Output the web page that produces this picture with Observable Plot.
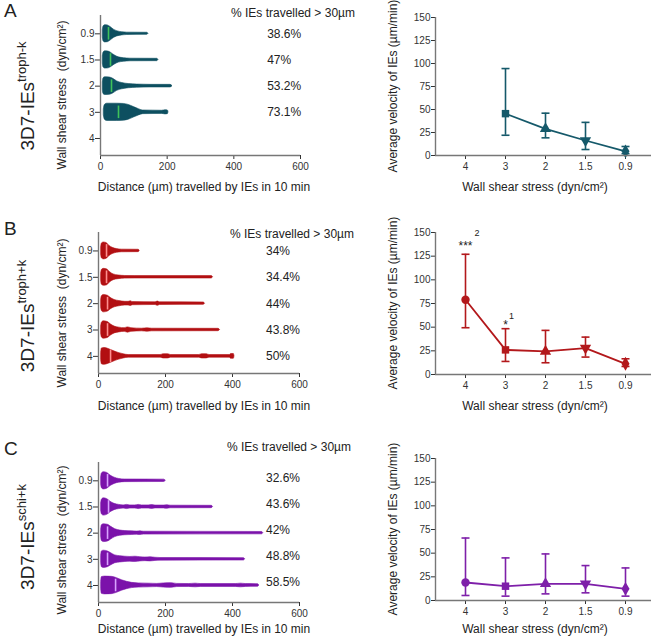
<!DOCTYPE html>
<html><head><meta charset="utf-8">
<script src="https://cdn.jsdelivr.net/npm/d3@7"></script>
<script src="https://cdn.jsdelivr.net/npm/@observablehq/plot@0.6"></script>
<style>
body{margin:0;background:#fff;}
#fig{position:relative;width:654px;height:637px;font-family:Arial,"Liberation Sans",Helvetica,sans-serif;color:#222;overflow:hidden;background:#fff;}
.abs{position:absolute;white-space:pre;line-height:1;}
.rot{transform:translate(-50%,-50%) rotate(-90deg);}
.ctr{transform:translate(-50%,-50%);}
</style></head><body><div id="fig"></div>
<script>
// ---------- data ----------
const violinRows = ["0.9", "1.5", "2", "3", "4"];
const stressOrder = ["4", "3", "2", "1.5", "0.9"];
const panelLetters = ["A", "B", "C"];
const strainSup = ["troph-k", "troph+k", "schi+k"];
const pctHeader = "% IEs travelled > 30µm";

const pctA = ["38.6%", "47%", "53.2%", "73.1%"];
const pctB = ["34%", "34.4%", "44%", "43.8%", "50%"];
const pctC = ["32.6%", "43.6%", "42%", "48.8%", "58.5%"];

const medianA = [24, 30, 33, 54];
const medianB = [24, 24, 27, 27, 36];
const medianC = [27, 30, 27, 27, 51];

// violin outlines: [distance µm, half-width in row units], rows 0.9,1.5,2,3,4
const violinA = [
  [[7,0.15],[9,0.28],[14,0.33],[22,0.32],[30,0.26],[40,0.16],[50,0.1],[65,0.06],[80,0.045],[140,0.04],[144,0]],
  [[7,0.15],[9,0.28],[14,0.33],[24,0.32],[32,0.27],[42,0.18],[55,0.1],[70,0.07],[90,0.05],[170,0.045],[174,0]],
  [[7,0.15],[9,0.3],[14,0.34],[28,0.33],[38,0.28],[50,0.18],[65,0.12],[85,0.08],[110,0.06],[150,0.05],[210,0.05],[216,0]],
  [[10,0.12],[13,0.28],[20,0.33],[50,0.33],[70,0.32],[85,0.28],[100,0.2],[115,0.12],[128,0.07],[185,0.06],[195,0.08],[202,0.07],[204,0]]
];
const violinB = [
  [[8,0.15],[10,0.28],[16,0.32],[24,0.3],[32,0.2],[42,0.12],[55,0.07],[70,0.05],[120,0.045],[123,0]],
  [[8,0.15],[10,0.28],[16,0.32],[26,0.3],[34,0.2],[45,0.11],[60,0.07],[80,0.05],[110,0.045],[338,0.045],[342,0]],
  [[8,0.15],[10,0.28],[16,0.33],[28,0.3],[36,0.22],[48,0.14],[62,0.1],[80,0.07],[90,0.07],[96,0.09],[102,0.06],[170,0.05],[177,0.08],[184,0.05],[314,0.045],[318,0]],
  [[8,0.15],[10,0.28],[16,0.33],[28,0.3],[36,0.22],[48,0.13],[62,0.09],[78,0.07],[88,0.1],[98,0.07],[130,0.05],[146,0.065],[160,0.05],[358,0.045],[363,0]],
  [[8,0.15],[10,0.3],[18,0.32],[30,0.28],[45,0.2],[60,0.13],[75,0.08],[90,0.05],[185,0.05],[195,0.08],[207,0.08],[217,0.05],[300,0.05],[310,0.08],[322,0.08],[332,0.05],[392,0.05],[396,0.09],[404,0.09],[406,0]]
];
const violinC = [
  [[8,0.15],[10,0.28],[16,0.33],[26,0.3],[36,0.2],[48,0.12],[62,0.07],[80,0.05],[196,0.045],[201,0]],
  [[8,0.15],[10,0.28],[16,0.33],[26,0.3],[36,0.2],[48,0.12],[62,0.08],[75,0.06],[85,0.08],[95,0.06],[110,0.06],[120,0.08],[130,0.06],[150,0.06],[160,0.075],[170,0.055],[195,0.055],[205,0.07],[215,0.05],[338,0.045],[342,0]],
  [[8,0.15],[10,0.3],[16,0.34],[28,0.32],[38,0.24],[50,0.15],[65,0.1],[80,0.08],[100,0.07],[115,0.06],[125,0.07],[135,0.055],[488,0.045],[492,0]],
  [[8,0.15],[10,0.3],[16,0.33],[28,0.3],[38,0.23],[50,0.15],[65,0.12],[80,0.1],[95,0.09],[110,0.1],[125,0.08],[140,0.07],[155,0.08],[170,0.06],[185,0.05],[434,0.045],[438,0]],
  [[8,0.15],[10,0.32],[20,0.34],[40,0.33],[55,0.28],[70,0.2],[85,0.14],[100,0.1],[120,0.08],[150,0.07],[175,0.06],[195,0.08],[215,0.09],[235,0.06],[270,0.055],[290,0.07],[305,0.055],[410,0.055],[425,0.07],[440,0.055],[476,0.05],[480,0]]
];

// velocity (µm/min) by wall shear stress 4,3,2,1.5,0.9
const meanA = [null, 45.5, 29, 16.3, 4.5];
const lowA  = [null, 22, 19.2, 6.5, 2];
const highA = [null, 94.5, 46, 36, 9.8];
const meanB = [79, 26, 24.4, 27.9, 11.3];
const lowB  = [49.4, 13.8, 12.4, 18.4, 8.5];
const highB = [127, 48.4, 46.6, 39.5, 16.6];
const meanC = [19, 15.1, 17.6, 17.6, 12.3];
const lowC  = [5.3, 4.6, 7, 8.1, 4.6];
const highC = [66, 45, 49.2, 36.9, 34.4];

const annotB = [
  {i: 0, v: 135.5, t: "***", s: 12},
  {i: 0.29, v: 149, t: "2", s: 9},
  {i: 1, v: 52, t: "*", s: 12},
  {i: 1.15, v: 61.5, t: "1", s: 9}
];
const markerSymbols = ["circle", "square", "triangle", "triangle", "diamond"];
const markerRotate = [0, 0, 0, 180, 0];

// ---------- styles ----------
const FONT = 'Arial, "Liberation Sans", Helvetica, sans-serif';
const AXIS = "#777";
const palette = [
  {fill: "#0d4f60", line: "#15596a", med: "#3fc25a"},
  {fill: "#b20f12", line: "#b3181b", med: "#ff8e8e"},
  {fill: "#7b12aa", line: "#7e1fa9", med: "#d9a2ff"}
];

const fig = document.getElementById("fig");
function place(el, left, top) {
  el.style.position = "absolute";
  el.style.left = left + "px";
  el.style.top = top + "px";
  fig.appendChild(el);
}
function html(str, cls, left, top, size) {
  const d = document.createElement("div");
  d.className = "abs " + cls;
  d.style.left = left + "px";
  d.style.top = top + "px";
  d.style.fontSize = size + "px";
  d.innerHTML = str;
  fig.appendChild(d);
}
const baseStyle = {fontFamily: FONT, fontSize: "10px", color: "#333", background: "transparent", overflow: "visible"};

function leftPlot(profiles, medians, pcts, pal, top, mLeft, mRight, mBottom, pctDy) {
  const rows = [];
  profiles.forEach((prof, i) => prof.forEach(([x, w]) => rows.push({i, x, w})));
  const meds = medians.map((m, i) => ({i, x: m}));
  const labels = pcts.map((t, i) => ({i, t}));
  const p = Plot.plot({
    width: 330, height: 200,
    marginLeft: mLeft, marginRight: mRight, marginTop: 15, marginBottom: mBottom,
    style: baseStyle,
    x: {domain: [0, 600], ticks: [0, 200, 400, 600], tickSize: 4, tickPadding: 3, label: null},
    y: {domain: [4.65, -0.7], ticks: [0, 1, 2, 3, 4], tickFormat: i => violinRows[i], tickSize: 5, tickPadding: 1, label: null},
    marks: [
      Plot.areaY(rows, {x: "x", y1: d => d.i - d.w, y2: d => d.i + d.w, z: "i", fill: pal.fill, stroke: pal.fill, strokeWidth: 0.6, curve: "monotone-x"}),
      Plot.ruleX(meds, {x: "x", y1: d => d.i - 0.24, y2: d => d.i + 0.24, stroke: pal.med, strokeWidth: 1.6}),
      Plot.text(labels, {x: () => 500, y: "i", text: "t", textAnchor: "start", fontSize: 12, fill: "#222", dy: pctDy}),
      Plot.ruleX([0], {stroke: AXIS, strokeWidth: 1.4}),
      Plot.ruleY([4.65], {stroke: AXIS, strokeWidth: 1.4})
    ]
  });
  place(p, 0, top);
}

function rightPlot(mean, low, high, pal, top, mBottom, annot) {
  const pts = stressOrder.map((s, i) => ({i, m: mean[i], lo: low[i], hi: high[i]})).filter(d => d.m != null);
  const p = Plot.plot({
    width: 324, height: 200,
    marginLeft: 105, marginRight: 3, marginTop: 17, marginBottom: mBottom,
    style: baseStyle,
    x: {domain: [-0.75, 4.65], ticks: [0, 1, 2, 3, 4], tickFormat: i => stressOrder[i], tickSize: 4, tickPadding: 3, label: null},
    y: {domain: [0, 150], ticks: d3.range(0, 151, 25), tickSize: 4, tickPadding: 1, label: null},
    marks: [
      Plot.ruleX(pts, {x: "i", y1: "lo", y2: "hi", stroke: pal.line, strokeWidth: 1.6}),
      Plot.link(pts, {x1: d => d.i - 0.1, x2: d => d.i + 0.1, y1: "hi", y2: "hi", stroke: pal.line, strokeWidth: 1.6}),
      Plot.link(pts, {x1: d => d.i - 0.1, x2: d => d.i + 0.1, y1: "lo", y2: "lo", stroke: pal.line, strokeWidth: 1.6}),
      Plot.line(pts, {x: "i", y: "m", stroke: pal.line, strokeWidth: 1.8}),
      Plot.dot(pts, {x: "i", y: "m", symbol: d => markerSymbols[d.i], rotate: d => markerRotate[d.i], fill: pal.line, stroke: "none", r: 4.2}),
      Plot.ruleX([-0.75], {stroke: AXIS, strokeWidth: 1.4}),
      Plot.ruleY([0], {stroke: AXIS, strokeWidth: 1.4}),
      annot ? Plot.text(annot, {x: "i", y: "v", text: "t", fontSize: d => d.s, fill: "#222"}) : null
    ]
  });
  place(p, 330, top);
}

// ---------- panels ----------
leftPlot(violinA, medianA, pctA, palette[0], 0, 100, 30, 45, 0);
leftPlot(violinB, medianB, pctB, palette[1], 217, 98, 31, 44, 0);
leftPlot(violinC, medianC, pctC, palette[2], 447, 98, 31, 45, -3);

rightPlot(meanA, lowA, highA, palette[0], 0, 45, null);
rightPlot(meanB, lowB, highB, palette[1], 215, 41, annotB);
rightPlot(meanC, lowC, highC, palette[2], 441, 41, null);

// ---------- text ----------
const letterTop = [1, 219, 439];
const strainY = [96, 316, 537];
const leftYTitle = [95, 313, 540];
const xTitleY = [187, 406, 629];
const rightYTitle = [86, 303, 529];
const headerY = [13, 234, 447];
const headerX = [231, 230, 227];
panelLetters.forEach((L, k) => {
  html(L, "", 4, letterTop[k], 19);
  html('3D7-IEs<sup style="font-size:13px;vertical-align:0.55em">' + strainSup[k] + '</sup>', "rot", 26, strainY[k], 19);
  html("Wall shear stress  (dyn/cm²)", "rot", 62, leftYTitle[k], 12);
  html("Distance (µm) travelled by IEs in 10 min", "ctr", 204, xTitleY[k], 12);
  html("Wall shear stress (dyn/cm²)", "ctr", 535, xTitleY[k], 12);
  html("Average velocity of IEs (µm/min)", "rot", 393, rightYTitle[k], 12);
  html(pctHeader, "", headerX[k], headerY[k] - 6, 12);
});
</script></body></html>
